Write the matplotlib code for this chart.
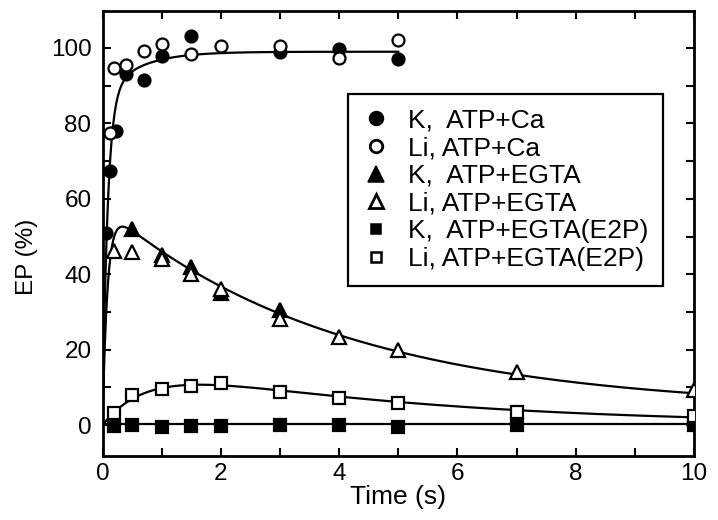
import numpy as np
import matplotlib
matplotlib.use("Agg")
import matplotlib.pyplot as plt
from matplotlib.lines import Line2D
from matplotlib.ticker import MultipleLocator

plt.rcParams['font.family'] = ['Liberation Sans', 'DejaVu Sans']

# --- measured EP levels (% of maximum) ---
t_ca_k = [0.06, 0.12, 0.22, 0.4, 0.7, 1.0, 1.5, 3.0, 4.0, 5.0]
ep_ca_k = [51.0, 67.5, 78.0, 93.0, 91.5, 97.8, 103.2, 98.8, 99.6, 97.0]

t_ca_li = [0.12, 0.2, 0.4, 0.7, 1.0, 1.5, 2.0, 3.0, 4.0, 5.0]
ep_ca_li = [77.5, 94.8, 95.5, 99.2, 101.0, 98.3, 100.5, 100.5, 97.4, 102.0]

t_egta_k = [0.5, 1.0, 1.5, 2.0, 3.0]
ep_egta_k = [52.0, 45.0, 42.0, 35.0, 30.4]

t_egta_li = [0.2, 0.5, 1.0, 1.5, 2.0, 3.0, 4.0, 5.0, 7.0, 10.0]
ep_egta_li = [46.2, 45.9, 44.1, 40.0, 36.2, 28.0, 23.4, 20.0, 14.1, 9.3]

t_e2p_k = [0.2, 0.5, 1.0, 1.5, 2.0, 3.0, 4.0, 5.0, 7.0, 10.0]
ep_e2p_k = [-0.3, 0.0, -0.4, -0.2, -0.2, 0.0, 0.0, -0.6, 0.0, 0.0]

t_e2p_li = [0.2, 0.5, 1.0, 1.5, 2.0, 3.0, 4.0, 5.0, 7.0, 10.0]
ep_e2p_li = [3.1, 8.0, 9.5, 10.4, 11.1, 8.7, 7.1, 5.9, 3.5, 2.4]

labels = ["K,  ATP+Ca", "Li, ATP+Ca", "K,  ATP+EGTA", "Li, ATP+EGTA",
          "K,  ATP+EGTA(E2P)", "Li, ATP+EGTA(E2P)"]

# --- kinetic fit parameters ---
# ATP+Ca: biexponential rise to plateau
ca_plateau, ca_fast_amp, ca_k_fast, ca_k_slow = 99.0, 87.0, 11.7, 1.75
# ATP+EGTA: fast formation followed by decay to an offset
egta_amp, egta_offset, egta_k_form, egta_k_decay = 54.0, 4.0, 12.0, 0.25
# E2P accumulation: rise and fall
e2p_amp, e2p_k_form, e2p_k_decay = 18.5, 1.3, 0.22
# K E2P stays at baseline
e2p_k_level = 0.3


def ca_fit(t):
    return (ca_plateau - ca_fast_amp * np.exp(-ca_k_fast * t)
            - (ca_plateau - ca_fast_amp) * np.exp(-ca_k_slow * t))


def egta_fit(t):
    return (egta_amp * (np.exp(-egta_k_decay * t) - np.exp(-egta_k_form * t))
            + egta_offset * (1 - np.exp(-egta_k_form * t)))


def e2p_fit(t):
    return e2p_amp * (np.exp(-e2p_k_decay * t) - np.exp(-e2p_k_form * t))


fig = plt.figure(figsize=(7.18, 5.2), dpi=100)
W, H = 718.0, 520.0
ax = fig.add_axes([102.5 / W, 1 - 456 / H, (694 - 102.5) / W, (456 - 11) / H])

t_short = np.linspace(0, 5, 600)
t_long = np.linspace(0, 10, 1000)

lw = 1.6
ax.plot(t_short, ca_fit(t_short), color='black', lw=lw, zorder=2)
ax.plot(t_long, egta_fit(t_long), color='black', lw=lw, zorder=2)
ax.plot(t_long, e2p_fit(t_long), color='black', lw=lw, zorder=2)
ax.plot([0, 10], [e2p_k_level, e2p_k_level], color='black', lw=lw, zorder=2)

mew = 1.6
ax.plot(t_e2p_k, ep_e2p_k, ls='none', marker='s', ms=8.0, mfc='black', mec='black', mew=mew, zorder=3)
ax.plot(t_e2p_li, ep_e2p_li, ls='none', marker='s', ms=8.0, mfc='white', mec='black', mew=mew, zorder=3)
ax.plot(t_egta_k, ep_egta_k, ls='none', marker='^', ms=10.5, mfc='black', mec='black', mew=mew, zorder=3)
ax.plot(t_egta_li, ep_egta_li, ls='none', marker='^', ms=10.5, mfc='white', mec='black', mew=mew, zorder=3)
ax.plot(t_ca_k, ep_ca_k, ls='none', marker='o', ms=8.6, mfc='black', mec='black', mew=mew, zorder=3)
ax.plot(t_ca_li, ep_ca_li, ls='none', marker='o', ms=8.6, mfc='white', mec='black', mew=mew, zorder=3)

ax.set_xlim(0, 10)
ax.set_ylim(-8.2, 109.8)
ax.xaxis.set_major_locator(MultipleLocator(2))
ax.xaxis.set_minor_locator(MultipleLocator(1))
ax.yaxis.set_major_locator(MultipleLocator(20))
ax.yaxis.set_minor_locator(MultipleLocator(10))
ax.tick_params(which='both', direction='in', top=True, right=True, width=1.5, colors='black')
ax.tick_params(which='major', length=6, labelsize=17.5)
ax.tick_params(axis='y', which='major', pad=8)
ax.tick_params(axis='x', which='major', pad=5)
ax.tick_params(which='minor', length=6)
for sp in ax.spines.values():
    sp.set_linewidth(2.0)

ax.set_xlabel("Time (s)", fontsize=19, labelpad=0)
ax.set_ylabel("EP (%)", fontsize=17.5)
ax.yaxis.set_label_coords(-0.109, 0.447)

# legend handles
lmew = 1.1
handles = [
    Line2D([], [], ls='none', marker='o', ms=10, mfc='black', mec='black', mew=lmew),
    Line2D([], [], ls='none', marker='o', ms=9, mfc='white', mec='black', mew=2.0),
    Line2D([], [], ls='none', marker='^', ms=11, mfc='black', mec='black', mew=lmew),
    Line2D([], [], ls='none', marker='^', ms=10, mfc='white', mec='black', mew=2.0),
    Line2D([], [], ls='none', marker='s', ms=7.5, mfc='black', mec='black', mew=lmew),
    Line2D([], [], ls='none', marker='s', ms=6.5, mfc='white', mec='black', mew=1.8),
]
leg = ax.legend(handles, labels, loc='upper left',
                bbox_to_anchor=(348 / W, 1 - 94 / H), bbox_transform=fig.transFigure,
                fontsize=19, frameon=True, fancybox=False, borderaxespad=0,
                borderpad=0.55, labelspacing=0.14, handlelength=1.0,
                handletextpad=0.72)
leg.get_frame().set_edgecolor('black')
leg.get_frame().set_linewidth(1.6)
leg.get_frame().set_alpha(1)

fig.savefig("out.png", dpi=100)
